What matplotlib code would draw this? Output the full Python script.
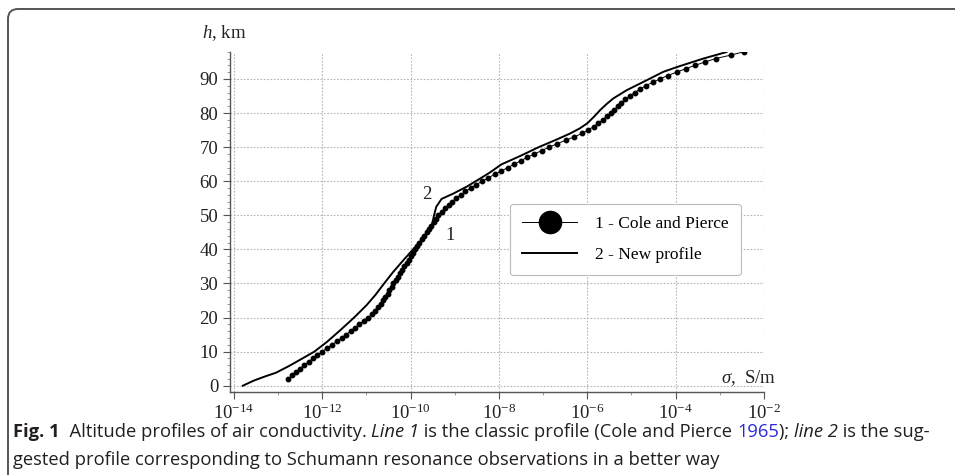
import numpy as np
import matplotlib
matplotlib.use('agg')
import matplotlib.pyplot as plt
from matplotlib.patches import FancyBboxPatch
from matplotlib.transforms import IdentityTransform
from matplotlib.ticker import LogLocator, MultipleLocator, NullFormatter

plt.rcParams['font.family'] = ['Liberation Serif', 'DejaVu Serif']
plt.rcParams['mathtext.fontset'] = 'custom'
plt.rcParams['mathtext.rm'] = 'Liberation Serif'
plt.rcParams['mathtext.it'] = 'Liberation Serif:italic'

# line 1 - Cole and Pierce (1965), one dot per km
h_cole = list(range(2, 99))
lg_cole = [-12.77, -12.68, -12.59, -12.50, -12.41, -12.31, -12.21, -12.11, -12.01,
           -11.89, -11.78, -11.67, -11.56, -11.46, -11.36, -11.26, -11.17, -11.06, -10.96,
           -10.88, -10.81, -10.74, -10.68, -10.62, -10.57, -10.52, -10.48, -10.43, -10.39,
           -10.34, -10.29, -10.24, -10.19, -10.14, -10.09, -10.04, -10.00, -9.95, -9.90,
           -9.85, -9.80, -9.75, -9.70, -9.64, -9.59, -9.53, -9.48, -9.42, -9.37,
           -9.30, -9.22, -9.14, -9.06, -8.97, -8.87, -8.76, -8.64, -8.51, -8.38,
           -8.24, -8.10, -7.95, -7.80, -7.65, -7.51, -7.36, -7.20, -7.03, -6.86,
           -6.68, -6.49, -6.30, -6.12, -5.98, -5.86, -5.75, -5.65, -5.56, -5.46,
           -5.39, -5.31, -5.23, -5.14, -5.04, -4.93, -4.81, -4.68, -4.52, -4.36,
           -4.18, -3.98, -3.77, -3.56, -3.33, -3.09, -2.75, -2.45]

# line 2 - new profile
lg_new = [-13.80, -13.55, -13.30, -13.05, -12.75, -12.45, -12.18, -11.90, -11.60, -11.28,
          -11.00, -10.80, -10.60, -10.40, -10.20, -10.00, -9.80, -9.62, -9.52, -9.47,
          -9.42, -9.30, -9.03, -8.73, -8.45, -8.20, -7.95, -7.52, -7.10, -6.70,
          -6.39, -6.17, -6.00, -5.85, -5.70, -5.55, -5.41, -5.11, -4.66, -4.28,
          -3.90, -3.37, -2.85]
h_new = [0.0, 1.5, 2.7, 3.8, 5.8, 8.0, 10.0, 12.8, 16.2, 20.0,
         23.6, 26.6, 30.0, 33.3, 36.3, 39.2, 42.0, 44.8, 47.0, 50.0,
         52.5, 54.8, 56.4, 58.4, 60.6, 62.6, 64.9, 67.4, 70.0, 72.2,
         74.0, 75.5, 77.0, 78.9, 81.0, 82.8, 84.3, 86.7, 89.6, 92.1,
         93.8, 96.0, 97.9]

labels = ['1 - Cole and Pierce', '2 - New profile']

fig = plt.figure(figsize=(9.55, 4.75), dpi=100)

# rounded frame of the figure panel (open to the right and bottom)
frame = FancyBboxPatch((8, -40), 1000, 475 - 9 + 40, boxstyle='round,pad=0,rounding_size=10',
                       transform=IdentityTransform(), fill=False, ec='#555555', lw=1.4)
fig.patches.append(frame)

ax = fig.add_axes([230 / 955, 1 - 392 / 475, 534 / 955, 340.3 / 475])
ax.plot(10.0 ** np.array(lg_cole), h_cole, color='black', lw=0.7, marker='o',
        ms=3.2, label=labels[0])
ax.plot(10.0 ** np.array(lg_new), h_new, color='black', lw=1.4, label=labels[1])

ax.set_xscale('log')
ax.set_xlim(10 ** -14.09, 1e-2)
ax.set_ylim(-1.85, 98)
ax.xaxis.set_major_locator(LogLocator(base=100.0, numticks=20))
ax.xaxis.set_minor_locator(LogLocator(base=10.0, subs=(1.0,), numticks=20))
ax.xaxis.set_minor_formatter(NullFormatter())
ax.set_yticks(range(0, 100, 10))
ax.yaxis.set_minor_locator(MultipleLocator(2))

for s in ['top', 'right']:
    ax.spines[s].set_visible(False)
for s in ['left', 'bottom']:
    ax.spines[s].set_color('#555555')
    ax.spines[s].set_linewidth(1.0)
ax.tick_params(which='major', direction='out', length=5, width=0.8, color='#555555',
               labelsize=13.5, labelcolor='#222222')
ax.tick_params(which='minor', direction='out', length=2.5, width=0.6, color='#888888')
ax.grid(True, which='major', color='#b5b5b5', ls=(0, (1.5, 1.5)), lw=0.8)
ax.set_axisbelow(True)

ax.text(-0.052, 1.055, r'$h$, km', transform=ax.transAxes, fontsize=13.5, color='#222222',
        ha='left', va='center')
ax.text(0.92, 0.04, r'$\sigma$,  S/m', transform=ax.transAxes, fontsize=13.5, color='#222222',
        ha='left', va='center')

ax.text(10 ** -9.64, 56, '2', fontsize=13.5, ha='center', va='center', color='#222222')
ax.text(10 ** -9.11, 44.2, '1', fontsize=13.5, ha='center', va='center', color='#222222')

leg = ax.legend(loc='center', bbox_to_anchor=(0.740, 0.448),
                fontsize=12.5, markerscale=5, handlelength=3.2, handletextpad=1.0,
                labelspacing=0.85, borderpad=0.7, fancybox=True, framealpha=1,
                edgecolor='#bbbbbb')
leg.get_frame().set_linewidth(0.8)

# caption
cap_font = ['Open Sans', 'DejaVu Sans']
cap_col = '#231f20'
line1 = [('Fig. 1', 'bold', 'normal', cap_col),
         ('  Altitude profiles of air conductivity. ', 'normal', 'normal', cap_col),
         ('Line 1', 'normal', 'italic', cap_col),
         (' is the classic profile (Cole and Pierce ', 'normal', 'normal', cap_col),
         ('1965', 'normal', 'normal', '#2b2bd8'),
         ('); ', 'normal', 'normal', cap_col),
         ('line 2', 'normal', 'italic', cap_col),
         (' is the sug-', 'normal', 'normal', cap_col)]
line2 = [('gested profile corresponding to Schumann resonance observations in a better way',
          'normal', 'normal', cap_col)]

renderer = fig.canvas.get_renderer()
for runs, ypix in [(line1, 475 - 432), (line2, 475 - 460)]:
    x = 13
    for txt, wt, st, col in runs:
        t = fig.text(x, ypix, txt, transform=IdentityTransform(), family=cap_font,
                     fontsize=13.2, weight=wt, style=st, color=col, va='center', ha='left')
        x += t.get_window_extent(renderer).width

fig.savefig('out.png', dpi=100)
